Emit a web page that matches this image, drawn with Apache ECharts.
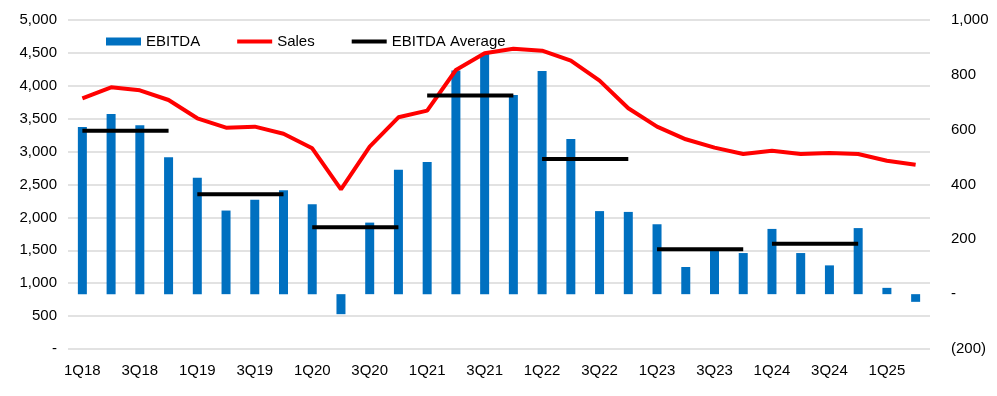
<!DOCTYPE html>
<html>
<head>
<meta charset="utf-8">
<script src="https://cdn.jsdelivr.net/npm/echarts@6/dist/echarts.min.js"></script>
<style>
  html, body { margin: 0; padding: 0; background: #fff; }
  #main { width: 997px; height: 396px; }
</style>
</head>
<body>
<div id="main"></div>
<script>
const quarters = ['1Q18','2Q18','3Q18','4Q18','1Q19','2Q19','3Q19','4Q19','1Q20','2Q20','3Q20','4Q20',
  '1Q21','2Q21','3Q21','4Q21','1Q22','2Q22','3Q22','4Q22','1Q23','2Q23','3Q23','4Q23',
  '1Q24','2Q24','3Q24','4Q24','1Q25','2Q25'];

// EBITDA per quarter (right axis)
const ebitda = [610, 657, 616, 499, 425, 305, 344, 379, 328, -73, 261, 454,
  482, 816, 876, 726, 814, 566, 303, 300, 255, 99, 160, 150,
  238, 150, 105, 241, 23, -28];

// Sales per quarter (left axis)
const sales = [3810, 3977, 3932, 3784, 3506, 3363, 3379, 3272, 3050, 2427, 3075, 3521,
  3622, 4240, 4494, 4564, 4534, 4382, 4078, 3658, 3379, 3187, 3060, 2964,
  3014, 2964, 2979, 2964, 2862, 2801];

// Yearly EBITDA average, 2018..2024 (right axis)
const avgYears = ['2018', '2019', '2020', '2021', '2022', '2023', '2024'];
const avgValues = [596, 364, 244, 725, 493, 164, 184];

const font = 'Arial, "Liberation Sans", sans-serif';
const chart = echarts.init(document.getElementById('main'));

function fmtLeft(v) {
  return v === 0 ? '-' : v.toLocaleString('en-US');
}
function fmtRight(v) {
  if (v === 0) return '-';
  if (v < 0) return '(' + Math.abs(v).toLocaleString('en-US') + ')';
  return v.toLocaleString('en-US');
}

// thin bar used as legend icon for the line series
const lineIcon = 'path://M0,0 L36,0 L36,4 L0,4 Z';

// one short line per year, spanning that year's four quarters
const avgSeries = avgValues.map((val, i) => ({
  name: 'EBITDA Average',
  id: 'avg' + avgYears[i],
  type: 'line',
  yAxisIndex: 1,
  symbol: 'none',
  z: 4,
  lineStyle: { color: '#000', width: 4 },
  itemStyle: { color: '#000' },
  data: quarters.map((q, k) => (k >= i * 4 && k < i * 4 + 4 ? val : null))
}));

const options = {
  animation: false,
  textStyle: { fontFamily: font },
  grid: { left: 68, right: 67, top: 20, bottom: 47 },
  legend: {
    left: 101,
    top: 29,
    itemWidth: 35,
    itemHeight: 8,
    itemGap: 37,
    textStyle: { fontSize: 15, color: '#000', fontFamily: font },
    data: [
      { name: 'EBITDA', icon: 'rect' },
      { name: 'Sales', icon: lineIcon },
      { name: 'EBITDA Average', icon: lineIcon }
    ]
  },
  xAxis: {
    type: 'category',
    data: quarters,
    axisLine: { show: false },
    axisTick: { show: false },
    axisLabel: { interval: 1, fontSize: 15, color: '#000', margin: 14 }
  },
  yAxis: [
    {
      type: 'value',
      min: 0,
      max: 5000,
      interval: 500,
      axisLine: { show: false },
      axisTick: { show: false },
      splitLine: { lineStyle: { color: '#d9d9d9', width: 1.5 } },
      axisLabel: { fontSize: 15, color: '#000', margin: 11, formatter: fmtLeft }
    },
    {
      type: 'value',
      min: -200,
      max: 1000,
      interval: 200,
      axisLine: { show: false },
      axisTick: { show: false },
      splitLine: { show: false },
      axisLabel: { fontSize: 15, color: '#000', margin: 21, formatter: fmtRight }
    }
  ],
  series: [
    {
      name: 'EBITDA',
      type: 'bar',
      yAxisIndex: 1,
      barWidth: 9,
      itemStyle: { color: '#0070C0' },
      data: ebitda
    },
    {
      name: 'Sales',
      type: 'line',
      yAxisIndex: 0,
      symbol: 'none',
      z: 3,
      lineStyle: { color: '#FF0000', width: 4 },
      itemStyle: { color: '#FF0000' },
      data: sales
    }
  ].concat(avgSeries)
};

chart.setOption(options);
</script>
</body>
</html>
